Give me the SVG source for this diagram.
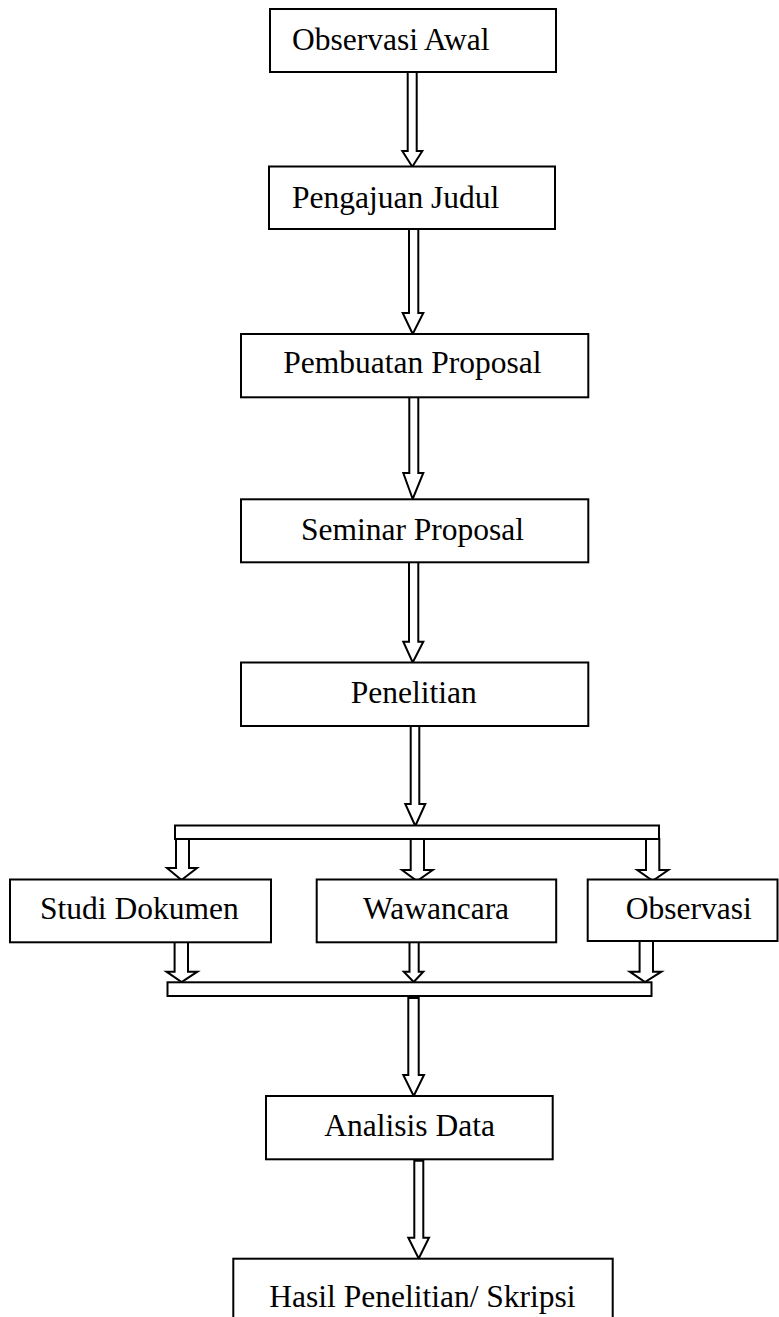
<svg xmlns="http://www.w3.org/2000/svg" width="779" height="1317" viewBox="0 0 779 1317">
<style>
.box{fill:#fff;stroke:#000;stroke-width:2}
.lbl{font-family:"Liberation Serif","Times New Roman",serif;font-size:31.5px;fill:#000}
.arr{fill:#fff;stroke:#000;stroke-width:2;stroke-linejoin:miter}
</style>
<rect width="779" height="1317" fill="#fff"/>
<g id="connectors">
<path class="arr" d="M407.7,72 V151 H402.3 L412.3,166.7 L422.3,151 H416.7 V72 Z"/>
<path class="arr" d="M409,229 V313 H402.7 L412.7,334 L423.3,313 H418.3 V229 Z"/>
<path class="arr" d="M409.3,397 V473 H403.3 L412.7,499 L423.3,473 H418.3 V397 Z"/>
<path class="arr" d="M409,562 V641.7 H403.3 L412.7,662.5 L423.3,641.7 H418.3 V562 Z"/>
<path class="arr" d="M410.7,726 V804 H405.3 L415.3,826 L425.3,804 H419.3 V726 Z"/>
<rect class="arr" x="175" y="825.5" width="484" height="13.5"/>
<path class="arr" d="M176,839 V868 H167 L181.5,880 L197,868 H189 V839 Z"/>
<path class="arr" d="M410.7,839 V870 H402 L417,881 L432.7,870 H424 V839 Z"/>
<path class="arr" d="M646,839 V870 H637.3 L652.7,880.7 L668.3,870 H659.3 V839 Z"/>
<path class="arr" d="M174.6,941 V971.7 H166.5 L181.6,982 L197.4,971.7 H188 V941 Z"/>
<path class="arr" d="M409.5,942 V971.7 H403.8 L413.7,982 L423.3,971.7 H418.7 V942 Z"/>
<path class="arr" d="M639.6,941 V971.7 H629.8 L645,982 L661.4,971.7 H653 V941 Z"/>
<rect class="arr" x="167.5" y="982.3" width="484" height="13.7"/>
<path class="arr" d="M408.3,998 V1075 H403.3 L413.7,1096 L424,1075 H418.7 V998 Z"/>
<path class="arr" d="M414.3,1160.7 V1237.7 H408.3 L418.7,1258.5 L429,1237.7 H423.3 V1160.7 Z"/>
</g>
<g id="observasi-awal">
<rect class="box" x="270" y="9" width="286" height="63"/>
<text class="lbl" x="292" y="50">Observasi Awal</text>
</g>
<g id="pengajuan-judul">
<rect class="box" x="269" y="166.5" width="286" height="62.5"/>
<text class="lbl" x="292" y="207.5">Pengajuan Judul</text>
</g>
<g id="pembuatan-proposal">
<rect class="box" x="241" y="334" width="347.3" height="63.3"/>
<text class="lbl" x="283.3" y="373.3">Pembuatan Proposal</text>
</g>
<g id="seminar-proposal">
<rect class="box" x="241" y="499.3" width="347.3" height="63"/>
<text class="lbl" x="301" y="540">Seminar Proposal</text>
</g>
<g id="penelitian">
<rect class="box" x="241" y="662.5" width="347.3" height="63.5"/>
<text class="lbl" x="350.7" y="702.7">Penelitian</text>
</g>
<g id="studi-dokumen">
<rect class="box" x="10" y="879.5" width="261" height="62.8"/>
<text class="lbl" x="40" y="919.3">Studi Dokumen</text>
</g>
<g id="wawancara">
<rect class="box" x="316.7" y="879.5" width="239.5" height="62.8"/>
<text class="lbl" x="363" y="918.5">Wawancara</text>
</g>
<g id="observasi">
<rect class="box" x="587.7" y="879.5" width="189.8" height="61.5"/>
<text class="lbl" x="625.7" y="919">Observasi</text>
</g>
<g id="analisis-data">
<rect class="box" x="266" y="1096" width="286.7" height="63.3"/>
<text class="lbl" x="324.3" y="1136">Analisis Data</text>
</g>
<g id="hasil-penelitian">
<rect class="box" x="233.3" y="1258.7" width="379.4" height="80"/>
<text class="lbl" x="269.3" y="1306.5">Hasil Penelitian/ Skripsi</text>
</g>
</svg>
